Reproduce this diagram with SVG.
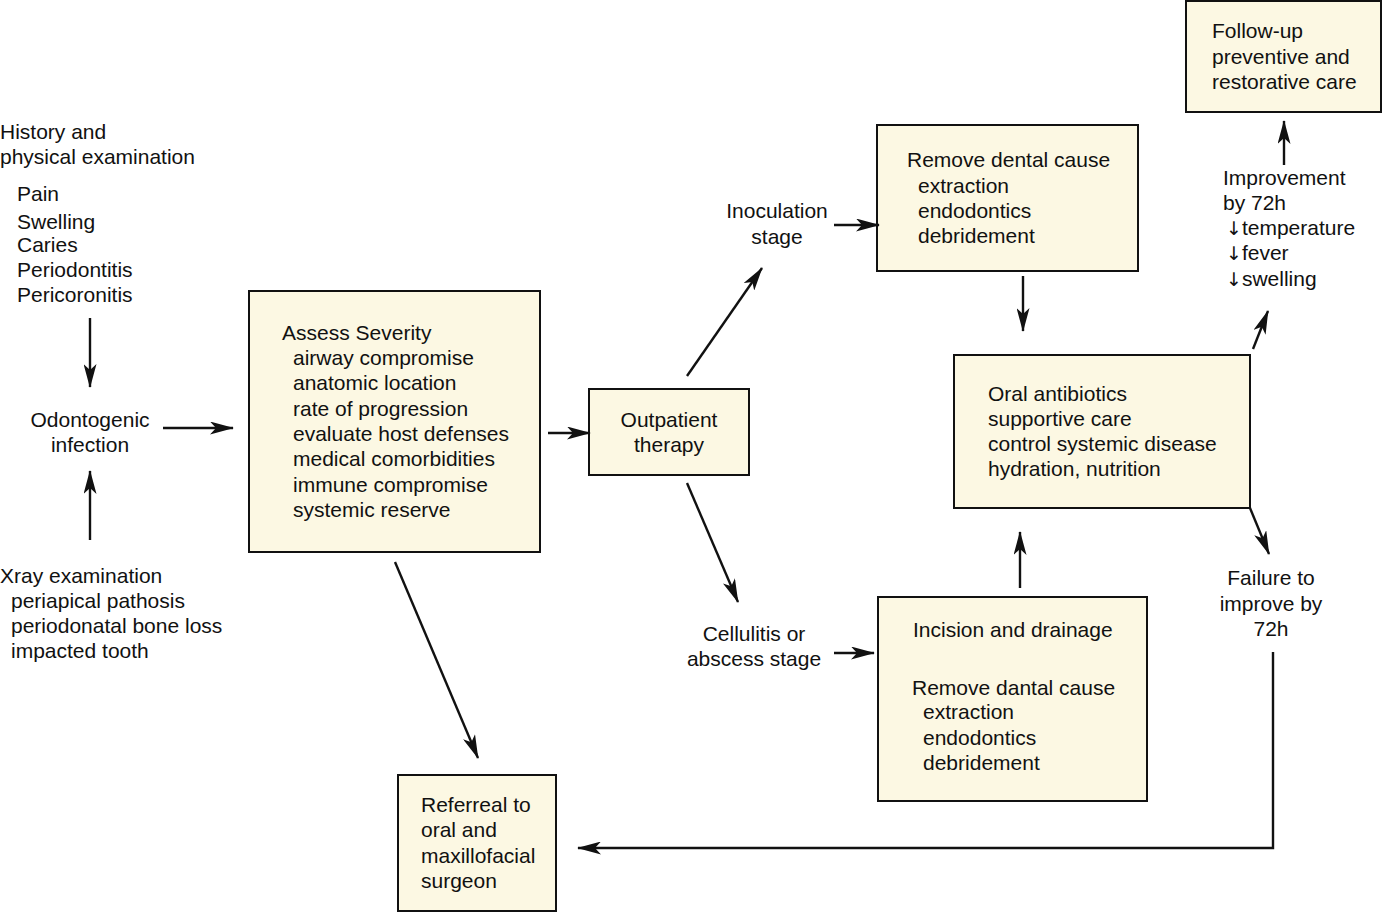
<svg xmlns="http://www.w3.org/2000/svg" width="1384" height="913" viewBox="0 0 1384 913">
<style>
text{font-family:"Liberation Sans",Arial,sans-serif;font-size:21px;fill:#111}
.c{text-anchor:middle}
.dn{font-family:"DejaVu Sans",sans-serif;font-size:19px}
.box{fill:#FCF8E3;stroke:#111;stroke-width:2}
.ln{stroke:#111;stroke-width:2.4;fill:none}
.ar{marker-end:url(#ah)}
</style>
<defs>
<marker id="ah" viewBox="0 0 24 13" refX="23" refY="6.5" markerWidth="24" markerHeight="13" markerUnits="userSpaceOnUse" orient="auto">
<path d="M0,0 L24,6.5 L0,13 L6,6.5 z" fill="#111"/>
</marker>
</defs>
<rect width="1384" height="913" fill="#fff"/>

<g id="history">
<text x="0" y="139">History and</text>
<text x="0" y="164">physical examination</text>
<text x="17" y="201">Pain</text>
<text x="17" y="229">Swelling</text>
<text x="17" y="252">Caries</text>
<text x="17" y="277">Periodontitis</text>
<text x="17" y="302">Pericoronitis</text>
</g>
<g id="odontogenic">
<text class="c" x="90" y="427">Odontogenic</text>
<text class="c" x="90" y="452">infection</text>
</g>
<g id="xray">
<text x="0" y="583">Xray examination</text>
<text x="11" y="608">periapical pathosis</text>
<text x="11" y="633">periodonatal bone loss</text>
<text x="11" y="658">impacted tooth</text>
</g>
<g id="assess">
<rect class="box" x="249" y="291" width="291" height="261"/>
<text x="282" y="340">Assess Severity</text>
<text x="293" y="365">airway compromise</text>
<text x="293" y="390">anatomic location</text>
<text x="293" y="416">rate of progression</text>
<text x="293" y="441">evaluate host defenses</text>
<text x="293" y="466">medical comorbidities</text>
<text x="293" y="492">immune compromise</text>
<text x="293" y="517">systemic reserve</text>
</g>
<g id="outpatient">
<rect class="box" x="589" y="389" width="160" height="86"/>
<text class="c" x="669" y="427">Outpatient</text>
<text class="c" x="669" y="452">therapy</text>
</g>
<g id="inoculation">
<text class="c" x="777" y="218">Inoculation</text>
<text class="c" x="777" y="244">stage</text>
</g>
<g id="remove-dental">
<rect class="box" x="877" y="125" width="261" height="146"/>
<text x="907" y="167">Remove dental cause</text>
<text x="918" y="193">extraction</text>
<text x="918" y="218">endodontics</text>
<text x="918" y="243">debridement</text>
</g>
<g id="oral-antibiotics">
<rect class="box" x="954" y="355" width="296" height="153"/>
<text x="988" y="401">Oral antibiotics</text>
<text x="988" y="426">supportive care</text>
<text x="988" y="451">control systemic disease</text>
<text x="988" y="476">hydration, nutrition</text>
</g>
<g id="improvement">
<text x="1223" y="185">Improvement</text>
<text x="1223" y="210">by 72h</text>
<text x="1226" y="235"><tspan class="dn">↓</tspan>temperature</text>
<text x="1226" y="260"><tspan class="dn">↓</tspan>fever</text>
<text x="1226" y="286"><tspan class="dn">↓</tspan>swelling</text>
</g>
<g id="follow-up">
<rect class="box" x="1186" y="1" width="195" height="111"/>
<text x="1212" y="38">Follow-up</text>
<text x="1212" y="64">preventive and</text>
<text x="1212" y="89">restorative care</text>
</g>
<g id="cellulitis">
<text class="c" x="754" y="641">Cellulitis or</text>
<text class="c" x="754" y="666">abscess stage</text>
</g>
<g id="incision">
<rect class="box" x="878" y="597" width="269" height="204"/>
<text x="913" y="637">Incision and drainage</text>
<text x="912" y="695">Remove dantal cause</text>
<text x="923" y="719">extraction</text>
<text x="923" y="745">endodontics</text>
<text x="923" y="770">debridement</text>
</g>
<g id="failure">
<text class="c" x="1271" y="585">Failure to</text>
<text class="c" x="1271" y="611">improve by</text>
<text class="c" x="1271" y="636">72h</text>
</g>
<g id="referral">
<rect class="box" x="398" y="775" width="158" height="136"/>
<text x="421" y="812">Referreal to</text>
<text x="421" y="837">oral and</text>
<text x="421" y="863">maxillofacial</text>
<text x="421" y="888">surgeon</text>
</g>

<g id="connectors">
<line class="ln ar" x1="90" y1="318" x2="90" y2="387"/>
<line class="ln ar" x1="90" y1="540" x2="90" y2="471"/>
<line class="ln ar" x1="163" y1="428" x2="233" y2="428"/>
<line class="ln ar" x1="548" y1="433" x2="590" y2="433"/>
<line class="ln ar" x1="687" y1="376" x2="762" y2="268"/>
<line class="ln ar" x1="834" y1="225" x2="879" y2="225"/>
<line class="ln ar" x1="1023" y1="276" x2="1023" y2="331"/>
<line class="ln ar" x1="1253" y1="349" x2="1268" y2="311"/>
<line class="ln ar" x1="1284" y1="165" x2="1284" y2="121"/>
<line class="ln ar" x1="687" y1="483" x2="738" y2="602"/>
<line class="ln ar" x1="834" y1="653" x2="874" y2="653"/>
<line class="ln ar" x1="1020" y1="588" x2="1020" y2="532"/>
<line class="ln ar" x1="1250" y1="508" x2="1269" y2="554"/>
<polyline class="ln ar" points="1273,652 1273,848 578,848"/>
<line class="ln ar" x1="395" y1="562" x2="478" y2="758"/>
</g>
</svg>
